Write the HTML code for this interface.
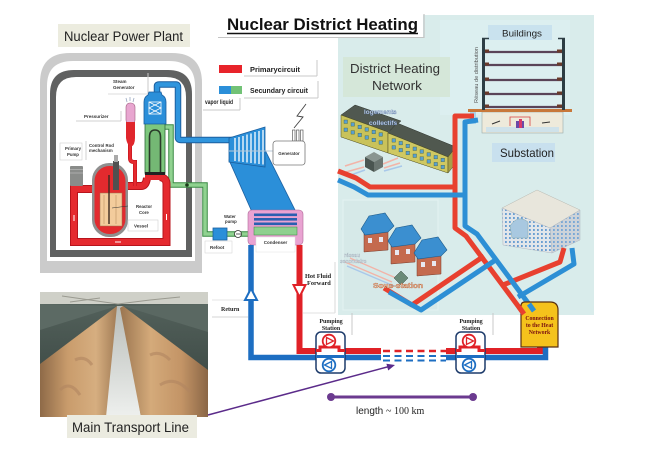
<!DOCTYPE html>
<html><head><meta charset="utf-8"><style>
html,body{margin:0;padding:0;background:#fff;}
svg{display:block;}
text{font-family:"Liberation Sans",sans-serif;}
.b{font-weight:bold;}
.s{font-family:"Liberation Serif",serif;font-weight:bold;}
</style></head><body>
<svg width="650" height="449" viewBox="0 0 650 449" xmlns="http://www.w3.org/2000/svg">
<defs>
<linearGradient id="lp" x1="0" y1="0" x2="1" y2="0">
<stop offset="0" stop-color="#8e6a48"/><stop offset="0.35" stop-color="#c99c6c"/><stop offset="0.7" stop-color="#d6ae80"/><stop offset="1" stop-color="#9a7550"/></linearGradient>
<linearGradient id="rp" x1="0" y1="0" x2="1" y2="0">
<stop offset="0" stop-color="#9a7550"/><stop offset="0.35" stop-color="#d4aa7a"/><stop offset="0.7" stop-color="#c39466"/><stop offset="1" stop-color="#8a6646"/></linearGradient>
<linearGradient id="ch" x1="0" y1="0" x2="0" y2="1">
<stop offset="0" stop-color="#b8bcb8"/><stop offset="1" stop-color="#eef0ee"/></linearGradient>
<linearGradient id="wl" x1="0" y1="0" x2="0" y2="1">
<stop offset="0" stop-color="#56645e"/><stop offset="1" stop-color="#34403c"/></linearGradient>
<pattern id="ow" width="4" height="4" patternUnits="userSpaceOnUse"><rect width="4" height="4" fill="#e2e6ea"/><rect x="1" y="1" width="1.8" height="2" fill="#6b9fd2"/></pattern>
<pattern id="ow2" width="4" height="4" patternUnits="userSpaceOnUse"><rect width="4" height="4" fill="#cdd3d9"/><rect x="1" y="1" width="1.8" height="2" fill="#7aa8d6"/></pattern>
</defs>
<rect width="650" height="449" fill="#fff"/>

<!-- Right panel -->
<rect x="338" y="15" width="256" height="300" fill="#d9eceb"/>
<rect x="440" y="20" width="130" height="95" fill="#dceff0"/>
<rect x="343" y="200" width="95" height="110" fill="#d6e9e8" stroke="#e4f2f2" stroke-width="1"/>

<!-- Title -->
<rect x="215" y="5" width="208" height="32" fill="#fff"/>
<line x1="218" y1="37.5" x2="424" y2="37.5" stroke="#c4c4c4" stroke-width="1"/>
<line x1="424" y1="14" x2="424" y2="38" stroke="#c4c4c4" stroke-width="1.2"/>
<text x="227" y="30" class="b" font-size="17" fill="#111" textLength="191" lengthAdjust="spacingAndGlyphs">Nuclear District Heating</text>
<line x1="227" y1="33.5" x2="418" y2="33.5" stroke="#111" stroke-width="1.5"/>

<!-- NPP label -->
<rect x="58" y="24" width="132" height="23" fill="#ececdf"/>
<text x="64" y="41" font-size="13.5" fill="#222" textLength="119" lengthAdjust="spacingAndGlyphs">Nuclear Power Plant</text>

<!-- Containment -->
<path d="M40,273 V83 Q40,53 70,53 H172 Q202,53 202,83 V273 Z" fill="#cbcbcb"/>
<path d="M47,261 V86 Q47,61 73,61 H169 Q195,61 195,86 V261 Z" fill="#fff"/>
<path d="M50,257 V94 Q50,70 74,70 H168 Q192,70 192,94 V257 Z" fill="#606161"/>
<path d="M56,250 V97 Q56,77 76,77 H166 Q186,77 186,97 V250 Z" fill="#fff"/>

<!-- Legend -->
<line x1="244" y1="76" x2="317" y2="76" stroke="#c8c8c8"/><line x1="317" y1="60" x2="317" y2="76" stroke="#c8c8c8"/>
<rect x="219" y="65" width="23" height="8" fill="#e8232a"/>
<text x="250" y="72" class="b" font-size="7.5" fill="#222" textLength="50" lengthAdjust="spacingAndGlyphs">Primarycircuit</text>
<line x1="244" y1="98" x2="318" y2="98" stroke="#c8c8c8"/><line x1="318" y1="81" x2="318" y2="98" stroke="#c8c8c8"/>
<rect x="219" y="86" width="12" height="8" fill="#2b8fd9"/><rect x="231" y="86" width="11" height="8" fill="#72c276"/>
<text x="250" y="93" class="b" font-size="7.5" fill="#222" textLength="58" lengthAdjust="spacingAndGlyphs">Secundary circuit</text>
<line x1="203" y1="110" x2="240" y2="110" stroke="#c8c8c8"/><line x1="240" y1="98" x2="240" y2="110" stroke="#c8c8c8"/>
<text x="205" y="104" class="b" font-size="6.5" fill="#222" textLength="28" lengthAdjust="spacingAndGlyphs">vapor  liquid</text>

<!-- Reactor labels -->
<line x1="148" y1="73" x2="148" y2="94" stroke="#c8c8c8"/><line x1="108" y1="94" x2="148" y2="94" stroke="#dcdcdc"/>
<text x="113" y="83" class="b" font-size="4.5" fill="#333">Steam</text>
<text x="113" y="89" class="b" font-size="4.5" fill="#333">Generator</text>
<line x1="76" y1="121" x2="121" y2="121" stroke="#d0d0d0"/><line x1="121" y1="111" x2="121" y2="121" stroke="#d0d0d0"/>
<text x="84" y="118" class="b" font-size="4.5" fill="#333">Pressurizer</text>
<rect x="60" y="143" width="22" height="17" fill="#fff" stroke="#d0d0d0" stroke-width="0.6"/>
<text x="65" y="150" class="b" font-size="4.3" fill="#333">Primary</text>
<text x="67" y="156" class="b" font-size="4.3" fill="#333">Pump</text>
<line x1="86" y1="141" x2="86" y2="160" stroke="#d0d0d0"/>
<text x="89" y="147" class="b" font-size="4.3" fill="#333">Control Rod</text>
<text x="89" y="152" class="b" font-size="4.3" fill="#333">mechanism</text>

<!-- Steam pipe -->
<path d="M157,96 V86 Q157,84.5 159,84.5 H176 Q178,84.5 178,87 V137.5 Q178,140 181,140 H234" fill="none" stroke="#1b5f9f" stroke-width="6.5"/>
<path d="M157,96 V86 Q157,84.5 159,84.5 H176 Q178,84.5 178,87 V137.5 Q178,140 181,140 H234" fill="none" stroke="#2f95dd" stroke-width="4.5"/>

<!-- Green pipe -->
<path d="M165,127 H171 V185 H205 V234 H214 M227,234 H250" fill="none" stroke="#3a8a44" stroke-width="5.5"/>
<path d="M165,127 H171 V185 H205 V234 H214 M227,234 H250" fill="none" stroke="#90d290" stroke-width="3.5"/>
<circle cx="187" cy="185" r="1.8" fill="#1a3a1a"/>

<!-- Primary loop -->
<path d="M96,189 H74 V242 H166.5 V184 Q166.5,178 160,177" fill="none" stroke="#b8141c" stroke-width="8"/>
<path d="M126,186 H141 Q146,186 147,178" fill="none" stroke="#b8141c" stroke-width="8"/>
<path d="M96,189 H74 V242 H166.5 V184 Q166.5,178 160,177" fill="none" stroke="#e52a2f" stroke-width="6"/>
<path d="M126,186 H141 Q146,186 147,178" fill="none" stroke="#e52a2f" stroke-width="6"/>
<path d="M74,215 V221 M115,242 H121 M166.5,214 V220" stroke="#fff" stroke-width="1"/>
<path d="M130,143 V158 Q130,162 134,162 H135 V186" fill="none" stroke="#c8161e" stroke-width="4"/>
<path d="M130,143 V158 Q130,162 134,162 H135 V186" fill="none" stroke="#e52a2f" stroke-width="2.6"/>

<!-- Pressurizer -->
<path d="M127,102 L126,98 M130,101 V97 M133,102 L134,98" stroke="#9aa8c0" stroke-width="0.8"/>
<rect x="126" y="103" width="9" height="21" rx="4" fill="#e8a6d0" stroke="#a06080" stroke-width="0.6"/>
<path d="M126,122 H135 V138 Q135,145 131,147 Q127,145 126,138 Z" fill="#e0262c"/>

<!-- Steam generator -->
<rect x="145" y="121" width="20" height="56" rx="4" fill="#7dc87d" stroke="#2e6a3a" stroke-width="0.8"/>
<path d="M149.5,175 V137 Q149.5,130 155,130 Q160.5,130 160.5,137 V175" fill="#74b874" stroke="#2a3a2a" stroke-width="1.6"/>
<rect x="145" y="172" width="20" height="4" fill="#222"/>
<rect x="145" y="175" width="20" height="5" fill="#e52a2f"/>
<path d="M144,124 V102 Q144,97 148,95 L149,92 H161 L162,95 Q166,97 166,102 V124 Z" fill="#2b8fd9" stroke="#1b5f9f" stroke-width="0.8"/>
<rect x="149" y="102" width="12" height="12" fill="none" stroke="#fff" stroke-width="0.8"/>
<path d="M149,102 L161,108 L149,114 M161,102 L149,108 L161,114" fill="none" stroke="#fff" stroke-width="0.8"/>

<!-- Pump & vessel -->
<rect x="70" y="166" width="13" height="20" rx="1" fill="#8a8c8a"/>
<path d="M70,169.5 H83 M70,173 H83" stroke="#b8b8b8" stroke-width="0.8"/>
<rect x="92" y="163" width="36" height="74" rx="17" fill="#8f8f8f"/>
<rect x="94.5" y="166" width="31" height="68" rx="15" fill="#e22a2e"/>
<rect x="100" y="193" width="22" height="33" fill="#f3cc9c" stroke="#9a7050" stroke-width="0.5"/>
<path d="M104,195 V224 M116,195 V224" stroke="#c8a070" stroke-width="0.8"/>
<line x1="109" y1="175" x2="109" y2="224" stroke="#3a2a20" stroke-width="1.4"/>
<rect x="113" y="161" width="6" height="29" fill="#505050"/>
<rect x="114" y="155" width="4" height="7" fill="#aaa"/>
<line x1="112" y1="208" x2="128" y2="206" stroke="#333" stroke-width="0.5"/>
<text x="136" y="208" class="b" font-size="4.3" fill="#333">Reactor</text>
<text x="139" y="214" class="b" font-size="4.3" fill="#333">Core</text>
<rect x="128" y="220" width="30" height="11" fill="#fff" stroke="#d0d0d0" stroke-width="0.6"/>
<text x="134" y="227.5" class="b" font-size="4.5" fill="#333">Vessel</text>

<!-- Turbine -->
<polygon points="229,160 265,150 296,212 252,212" fill="#2b8fd9" stroke="#1b5f9f" stroke-width="0.8"/>
<polygon points="229,138 265,127 265,167 229,162" fill="#2b8fd9" stroke="#1b5f9f" stroke-width="0.8"/>
<path d="M235,138 V161 M239,137 V161.5 M243,136 V162 M247,134.5 V162.5 M251,133.5 V163 M255,132 V163.5 M259,131 V164 M263,130 V164.5" stroke="#fff" stroke-width="1.3"/>
<line x1="229" y1="151" x2="274" y2="151" stroke="#b8c8d8" stroke-width="1"/>
<!-- Generator -->
<path d="M306,104 L297,116 L303,117 L294,128" fill="none" stroke="#444" stroke-width="0.9"/>
<rect x="292.5" y="130" width="2.5" height="11" fill="#fff" stroke="#444" stroke-width="0.6"/>
<rect x="296.5" y="130" width="2.5" height="11" fill="#fff" stroke="#444" stroke-width="0.6"/>
<rect x="300.5" y="130" width="2.5" height="11" fill="#fff" stroke="#444" stroke-width="0.6"/>
<rect x="273" y="141" width="32" height="24" rx="3" fill="#fff" stroke="#777" stroke-width="0.8"/>
<text x="289" y="155" class="b" font-size="4.5" fill="#333" text-anchor="middle">Generator</text>

<!-- Condenser -->
<rect x="248" y="210" width="55" height="35" rx="4" fill="#e9a3d2" stroke="#b06a98" stroke-width="0.6"/>
<rect x="254" y="213.5" width="43" height="2.6" fill="#2a5fb0"/>
<rect x="254" y="218" width="43" height="2.6" fill="#2a5fb0"/>
<rect x="254" y="222.5" width="43" height="2.6" fill="#2a5fb0"/>
<rect x="254" y="227" width="43" height="8" fill="#8fd08f" stroke="#3a8a44" stroke-width="0.5"/>
<rect x="256" y="237" width="39" height="15" fill="#fff" stroke="#e0e0e0" stroke-width="0.5"/>
<text x="275.5" y="244" class="b" font-size="4.5" fill="#333" text-anchor="middle">Condenser</text>
<!-- Refoot / water pump -->
<text x="224" y="218" class="b" font-size="4.3" fill="#333">Water</text>
<text x="225" y="223" class="b" font-size="4.3" fill="#333">pump</text>
<circle cx="238" cy="234" r="3.5" fill="#fff" stroke="#333" stroke-width="0.8"/>
<line x1="236" y1="234" x2="241" y2="234" stroke="#333" stroke-width="0.8"/>
<rect x="213" y="228" width="14" height="12" fill="#2b8fd9" stroke="#1b5f9f" stroke-width="0.8"/>
<rect x="205" y="241" width="27" height="12" fill="#fff" stroke="#d8d8d8" stroke-width="0.6"/>
<text x="210" y="249" class="b" font-size="4.5" fill="#333">Refoot</text>

<!-- Return / Forward -->
<line x1="212" y1="317" x2="248" y2="317" stroke="#d4d4d4"/>
<line x1="212" y1="300" x2="248" y2="300" stroke="#e4e4e4"/>
<text x="221" y="311" class="s" font-size="6" fill="#222">Return</text>
<line x1="335" y1="262" x2="335" y2="313" stroke="#d8d8d8"/>
<line x1="303" y1="313" x2="335" y2="313" stroke="#e0e0e0"/>
<text x="305" y="278" class="s" font-size="6.3" fill="#222">Hot Fluid</text>
<text x="307" y="285" class="s" font-size="6.3" fill="#222">Forward</text>
<path d="M251,245 V357.5 H381" fill="none" stroke="#1d6ec2" stroke-width="5.5"/>
<path d="M299.5,245 V351 H381" fill="none" stroke="#e02127" stroke-width="6"/>
<polygon points="251,288.5 245,300 257,300" fill="#fff" stroke="#1d6ec2" stroke-width="2"/>
<polygon points="293.5,285 305.5,285 299.5,297" fill="#fff" stroke="#e02127" stroke-width="2"/>

<!-- dashes -->
<line x1="383" y1="351" x2="446" y2="351" stroke="#e02127" stroke-width="2.5" stroke-dasharray="7 4.5"/>
<line x1="383" y1="356" x2="446" y2="356" stroke="#1d6ec2" stroke-width="2" stroke-dasharray="7 4.5"/>
<line x1="383" y1="360.5" x2="446" y2="360.5" stroke="#1d6ec2" stroke-width="2" stroke-dasharray="7 4.5"/>
<path d="M446,351 H457 M485,351 H540 V345" fill="none" stroke="#e02127" stroke-width="6"/>
<path d="M446,357.5 H457 M485,357.5 H545.5 V345" fill="none" stroke="#1d6ec2" stroke-width="5.5"/>

<!-- pump stations -->
<line x1="352" y1="313" x2="352" y2="335" stroke="#c8c8c8"/>
<text x="331" y="323" class="s" font-size="6" fill="#222" text-anchor="middle">Pumping</text>
<text x="331" y="330" class="s" font-size="6" fill="#222" text-anchor="middle">Station</text>
<rect x="316" y="332" width="29" height="41" rx="5" fill="#fff" stroke="#1d3b6b" stroke-width="1.5"/>
<path d="M316,350.5 H320 V347 H339 V350.5 H345" fill="none" stroke="#e02127" stroke-width="3"/>
<path d="M316,356.5 H345" fill="none" stroke="#1d6ec2" stroke-width="3"/>
<circle cx="329" cy="341" r="6.3" fill="#fff" stroke="#e02127" stroke-width="1.8"/>
<polygon points="326.5,337.5 333.5,341 326.5,344.5" fill="none" stroke="#e02127" stroke-width="1.3"/>
<circle cx="329" cy="365" r="6.3" fill="#fff" stroke="#1d6ec2" stroke-width="1.8"/>
<polygon points="331.5,361.5 324.5,365 331.5,368.5" fill="none" stroke="#1d6ec2" stroke-width="1.3"/>

<line x1="493" y1="313" x2="493" y2="335" stroke="#c8c8c8"/>
<text x="471" y="323" class="s" font-size="6" fill="#222" text-anchor="middle">Pumping</text>
<text x="471" y="330" class="s" font-size="6" fill="#222" text-anchor="middle">Station</text>
<rect x="456" y="332" width="29" height="41" rx="5" fill="#fff" stroke="#1d3b6b" stroke-width="1.5"/>
<path d="M456,350.5 H460 V347 H479 V350.5 H485" fill="none" stroke="#e02127" stroke-width="3"/>
<path d="M456,356.5 H485" fill="none" stroke="#1d6ec2" stroke-width="3"/>
<circle cx="469" cy="341" r="6.3" fill="#fff" stroke="#e02127" stroke-width="1.8"/>
<polygon points="466.5,337.5 473.5,341 466.5,344.5" fill="none" stroke="#e02127" stroke-width="1.3"/>
<circle cx="469" cy="365" r="6.3" fill="#fff" stroke="#1d6ec2" stroke-width="1.8"/>
<polygon points="471.5,361.5 464.5,365 471.5,368.5" fill="none" stroke="#1d6ec2" stroke-width="1.3"/>

<!-- Panel: top building -->
<rect x="488" y="25" width="64" height="15" fill="#c9e2ee"/>
<text x="502" y="36.5" font-size="9.5" fill="#222" textLength="40" lengthAdjust="spacingAndGlyphs">Buildings</text>
<rect x="482" y="112" width="81" height="21" fill="#eeeadb" stroke="#9aa" stroke-width="0.6"/>
<rect x="486" y="127" width="73" height="5" fill="#cfe2ea"/>
<path d="M510,126 V117 H530 V126" fill="none" stroke="#d84040" stroke-width="0.8"/>
<rect x="516" y="121" width="8" height="7" fill="#6a4aa8"/>
<rect x="519" y="119" width="3" height="9" fill="#d83a6a"/>
<path d="M492,124 L500,121 M542,123 L550,122" stroke="#333" stroke-width="1"/>
<rect x="468" y="109" width="104" height="3" fill="#c8783a"/>
<rect x="482" y="38" width="3" height="72" fill="#2e3e45"/>
<rect x="562" y="38" width="3" height="72" fill="#2e3e45"/>
<path d="M482,38.5 H489 M558,38.5 H565" stroke="#2e3e45" stroke-width="1.5"/>
<g stroke="#5a4458" stroke-width="2.2">
<line x1="485" y1="52" x2="562" y2="52"/><line x1="485" y1="65" x2="562" y2="65"/><line x1="485" y1="80" x2="562" y2="80"/><line x1="485" y1="94" x2="562" y2="94"/><line x1="485" y1="107" x2="562" y2="107"/>
</g>
<g fill="#6a3a2a">
<rect x="485" y="49.5" width="4" height="3"/><rect x="557" y="49.5" width="5" height="3"/>
<rect x="485" y="62.5" width="4" height="3"/><rect x="557" y="62.5" width="5" height="3"/>
<rect x="485" y="77.5" width="4" height="3"/><rect x="557" y="77.5" width="5" height="3"/>
<rect x="485" y="91.5" width="4" height="3"/><rect x="557" y="91.5" width="5" height="3"/>
<rect x="485" y="104.5" width="4" height="3"/><rect x="557" y="104.5" width="5" height="3"/>
</g>
<text transform="translate(478,103) rotate(-90)" font-size="5" fill="#555" textLength="56" lengthAdjust="spacingAndGlyphs">Réseau de distribution</text>
<rect x="470" y="112" width="6" height="12" fill="#a8d4ea"/>

<rect x="492" y="143" width="63" height="19" fill="#c8e0ee"/>
<text x="500" y="157" font-size="12" fill="#222" textLength="54" lengthAdjust="spacingAndGlyphs">Substation</text>

<!-- District Heating Network label -->
<rect x="343" y="57" width="107" height="40" fill="#d5e7d9"/>
<text x="350" y="73" font-size="12.5" fill="#333" textLength="90" lengthAdjust="spacingAndGlyphs">District Heating</text>
<text x="372" y="90" font-size="12.5" fill="#333" textLength="50" lengthAdjust="spacingAndGlyphs">Network</text>

<!-- Apartment buildings -->
<polygon points="341,115 355,105 401,121 388,132" fill="#505850" stroke="#2e342e" stroke-width="0.5"/>
<polygon points="341,115 388,132 388,153 341,137" fill="#c9c25a" stroke="#4a4a20" stroke-width="0.5"/>
<polygon points="388,133 397,123 456,147 448,157" fill="#50584f" stroke="#2e342e" stroke-width="0.5"/>
<polygon points="388,133 448,157 448,173 388,153" fill="#cfc862" stroke="#4a4a20" stroke-width="0.5"/>
<polygon points="448,157 456,147 456,163 448,173" fill="#a8a048" stroke="#4a4a20" stroke-width="0.5"/>
<g fill="#5aa0d0" stroke="#2a4a30" stroke-width="0.3">
<rect x="344" y="120" width="3.5" height="3.5"/><rect x="344" y="128" width="3.5" height="3.5"/>
<rect x="351" y="122.6" width="3.5" height="3.5"/><rect x="351" y="130.6" width="3.5" height="3.5"/>
<rect x="358" y="125.2" width="3.5" height="3.5"/><rect x="358" y="133.2" width="3.5" height="3.5"/>
<rect x="365" y="127.7" width="3.5" height="3.5"/><rect x="365" y="135.7" width="3.5" height="3.5"/>
<rect x="372" y="130.2" width="3.5" height="3.5"/><rect x="372" y="138.2" width="3.5" height="3.5"/>
<rect x="379" y="132.8" width="3.5" height="3.5"/><rect x="379" y="140.8" width="3.5" height="3.5"/>
<rect x="392" y="138.6" width="3.5" height="3.5"/><rect x="392" y="145.6" width="3.5" height="3.5"/>
<rect x="399" y="141.4" width="3.5" height="3.5"/><rect x="399" y="148.4" width="3.5" height="3.5"/>
<rect x="406" y="144.2" width="3.5" height="3.5"/><rect x="406" y="151.2" width="3.5" height="3.5"/>
<rect x="413" y="147" width="3.5" height="3.5"/><rect x="413" y="154" width="3.5" height="3.5"/>
<rect x="420" y="149.8" width="3.5" height="3.5"/><rect x="420" y="156.8" width="3.5" height="3.5"/>
<rect x="427" y="152.6" width="3.5" height="3.5"/><rect x="427" y="159.6" width="3.5" height="3.5"/>
<rect x="434" y="155.4" width="3.5" height="3.5"/><rect x="434" y="162.4" width="3.5" height="3.5"/>
<rect x="441" y="158.2" width="3.5" height="3.5"/><rect x="441" y="165.2" width="3.5" height="3.5"/>
</g>
<text x="364" y="114" class="b" font-size="6.5" fill="#e8f0f8" stroke="#4a6aa0" stroke-width="0.3">logements</text>
<text x="369" y="125" class="b" font-size="6.5" fill="#e8f0f8" stroke="#4a6aa0" stroke-width="0.3">collectifs</text>
<path d="M345,166 L364,160 M383,164 L398,158 M346,172 L364,167 M384,168 L400,163" stroke="#f2b4a8" stroke-width="1.6"/>
<path d="M348,176 L365,170 M384,171 L402,166" stroke="#a8c8ea" stroke-width="1.6"/>
<polygon points="365,157 374,152 383,157 374,162" fill="#8a9590"/>
<polygon points="365,157 374,162 374,172 365,167" fill="#4a5550"/>
<polygon points="374,162 383,157 383,167 374,172" fill="#6a7570"/>

<!-- Houses -->
<path d="M345,262 L392,282 M350,258 L396,278" stroke="#f2b4a8" stroke-width="1.4"/>
<path d="M347,266 L394,286" stroke="#a8c8ea" stroke-width="1.4"/>
<g id="h">
<polygon points="364,233 388,230 388,250 364,252" fill="#c46a4e" stroke="#7a3a2a" stroke-width="0.5"/>
<rect x="368" y="238" width="4" height="5" fill="#e8e8f0"/><rect x="379" y="237" width="4" height="5" fill="#e8e8f0"/>
<polygon points="361,229 369,216 385,213 394,226 388,232 365,235" fill="#3b8fd0" stroke="#1d5a8a" stroke-width="0.6"/>
</g>
<use href="#h" transform="translate(27,12)"/>
<use href="#h" transform="translate(53,24)"/>
<text x="344" y="257" class="b" font-size="5" fill="#e8eef2" stroke="#8a9aa8" stroke-width="0.2">réseau</text>
<text x="340" y="263" class="b" font-size="5" fill="#e8eef2" stroke="#8a9aa8" stroke-width="0.2">secondaire</text>
<polygon points="401,271 408,278 401,285 394,278" fill="#6a8a78" stroke="#3a4a40" stroke-width="0.5"/>

<!-- Office -->
<polygon points="537,190 580,210 550,228 502,208" fill="#e8e6dc" stroke="#b8b8b0" stroke-width="0.5"/>
<polygon points="502,208 550,228 552,253 503,245" fill="url(#ow)" stroke="#b0b8c0" stroke-width="0.5"/>
<polygon points="550,228 580,210 580,240 552,253" fill="url(#ow2)" stroke="#b0b8c0" stroke-width="0.5"/>
<path d="M510,226 Q518,214 528,222 V238 H512 Z" fill="#a8c8e0" stroke="#8aa" stroke-width="0.5"/>

<!-- Panel pipes -->
<g fill="none" stroke-linejoin="round">
<path d="M338,171 L356,178 L370,187 L455,187" stroke="#e8402f" stroke-width="5"/>
<path d="M384,288 L412,305 L484,256" stroke="#e8402f" stroke-width="5"/>
<path d="M474,116 L455,116 L455,228 L466,236 L524,314" stroke="#e8402f" stroke-width="5"/>
<path d="M503,285 L560,262 L564,248" stroke="#e8402f" stroke-width="5"/>
<path d="M338,180 L354,187 L368,195 L465,195" stroke="#2d8fd5" stroke-width="5"/>
<path d="M389,292 L421,310 L497,259" stroke="#2d8fd5" stroke-width="5"/>
<path d="M478,120 L465,122 L465,226 L477,234 L534,311" stroke="#2d8fd5" stroke-width="5"/>
<path d="M518,297 L574,264 L572,248" stroke="#2d8fd5" stroke-width="5"/>
</g>
<text x="373" y="288" class="b" font-size="7" fill="#f7cdb0" stroke="#b05a30" stroke-width="0.35" textLength="50" lengthAdjust="spacingAndGlyphs">Sous-station</text>

<!-- Connection box -->
<path d="M521,347 V306 Q521,302 525,302 H550 Q558,302 558,310 V347 Z" fill="#f5c21c" stroke="#5a3010" stroke-width="1.2"/>
<path d="M519,307 L524,314" stroke="#e8402f" stroke-width="5"/>
<path d="M529,304 L534,311" stroke="#2d8fd5" stroke-width="5"/>
<text x="539.5" y="320" class="s" font-size="5.8" fill="#7a1010" text-anchor="middle">Connection</text>
<text x="539.5" y="327" class="s" font-size="5.8" fill="#7a1010" text-anchor="middle">to the Heat</text>
<text x="539.5" y="334" class="s" font-size="5.8" fill="#7a1010" text-anchor="middle">Network</text>

<!-- Photo -->
<rect x="40" y="292" width="168" height="125" fill="url(#wl)"/>
<rect x="40" y="292" width="168" height="12" fill="#cfd0c8"/>
<path d="M62,296 L90,300 L118,304 L150,300 L180,297 M70,302 L100,298" stroke="#9a9a90" stroke-width="1" fill="none"/>
<polygon points="40,304 117,306 40,330" fill="#5c6a64"/>
<polygon points="123,306 208,304 208,332" fill="#5a6862"/>
<polygon points="117,306 40,364 40,417 107,417 120,308" fill="url(#lp)"/>
<polygon points="117,306 123,306 141,417 106,417" fill="url(#ch)"/>
<polygon points="123,306 208,370 208,417 141,417 120,308" fill="url(#rp)"/>
<path d="M60,390 Q70,380 80,395 M160,385 Q175,375 190,392 M75,360 Q85,355 92,365 M150,355 Q160,350 170,360" stroke="#b08660" stroke-width="3" fill="none" opacity="0.6"/>

<!-- Main transport label -->
<rect x="67" y="415" width="130" height="23" fill="#ebebe0"/>
<text x="72" y="432" font-size="14" fill="#222" textLength="117" lengthAdjust="spacingAndGlyphs">Main Transport Line</text>

<!-- Purple arrow -->
<line x1="208" y1="415" x2="389" y2="366.5" stroke="#5b2b8a" stroke-width="1.5"/>
<polygon points="395,365 388.2,370.5 386.4,363.7" fill="#5b2b8a"/>

<!-- Length bar -->
<line x1="331" y1="397" x2="473" y2="397" stroke="#6b3a8f" stroke-width="3"/>
<circle cx="331" cy="397" r="4" fill="#6b3a8f"/>
<circle cx="473" cy="397" r="4" fill="#6b3a8f"/>
<text x="356" y="414" font-size="10" fill="#222">length <tspan font-family="Liberation Serif, serif">~ 100 km</tspan></text>
</svg>
</body></html>
